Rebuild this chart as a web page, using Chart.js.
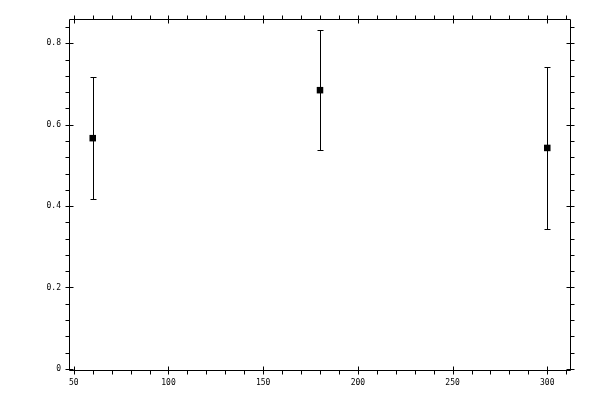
<!DOCTYPE html>
<html>
<head>
<meta charset="utf-8">
<script src="https://cdn.jsdelivr.net/npm/chart.js@4"></script>
<style>
  html, body { margin: 0; padding: 0; background: #fff; }
  #wrap { width: 600px; height: 400px; }
</style>
</head>
<body>
<div id="wrap"><canvas id="plot"></canvas></div>
<script>
// data
const xValues = [60, 180, 300];
const yValues = [0.567, 0.685, 0.543];
const yLow = [0.417, 0.537, 0.344];
const yHigh = [0.717, 0.834, 0.741];

// axis ticks
const xLabelTicks = [50, 100, 150, 200, 250, 300];
const xMinorTicks = [50, 60, 70, 80, 90, 100, 110, 120, 130, 140, 150, 160, 170, 180, 190, 200, 210, 220, 230, 240, 250, 260, 270, 280, 290, 300, 310];
const yLabelTicks = [0, 0.2, 0.4, 0.6, 0.8];
const yMinorTicks = [0, 0.04, 0.08, 0.12, 0.16, 0.2, 0.24, 0.28, 0.32, 0.36, 0.4, 0.44, 0.48, 0.52, 0.56, 0.6, 0.64, 0.68, 0.72, 0.76, 0.8, 0.84];

const points = xValues.map((x, i) => ({ x: x, y: yValues[i] }));

// error bars, drawn through the chart's scales
const errorBars = {
    id: 'errorBars',
    beforeDatasetsDraw(chart) {
        const { ctx, scales: { x, y } } = chart;
        ctx.save();
        ctx.strokeStyle = '#000';
        ctx.lineWidth = 1;
        xValues.forEach((xv, i) => {
            const px = Math.round(x.getPixelForValue(xv)) + 0.5;
            const top = Math.round(y.getPixelForValue(yHigh[i])) + 0.5;
            const bot = Math.round(y.getPixelForValue(yLow[i])) + 0.5;
            ctx.beginPath();
            ctx.moveTo(px, top);
            ctx.lineTo(px, bot);
            ctx.moveTo(px - 3, top);
            ctx.lineTo(px + 3, top);
            ctx.moveTo(px - 3, bot);
            ctx.lineTo(px + 3, bot);
            ctx.stroke();
        });
        ctx.restore();
    }
};

// box frame with outward minor ticks and crossing major ticks on all four sides
const frame = {
    id: 'frame',
    afterDraw(chart) {
        const { ctx, chartArea: a, scales: { x, y } } = chart;
        const L = a.left - 0.5, R = a.right + 0.5, T = a.top + 0.5, B = a.bottom + 0.5;
        ctx.save();
        ctx.strokeStyle = '#000';
        ctx.lineWidth = 1;
        ctx.beginPath();
        ctx.rect(L, T, R - L, B - T);

        xMinorTicks.forEach((v) => {
            const px = Math.round(x.getPixelForValue(v)) + 0.5;
            const major = xLabelTicks.includes(v);
            ctx.moveTo(px, B + 4);
            ctx.lineTo(px, major ? B - 4 : B);
            ctx.moveTo(px, T - 4);
            ctx.lineTo(px, major ? T + 4 : T);
        });
        yMinorTicks.forEach((v) => {
            const py = Math.round(y.getPixelForValue(v)) + 0.5;
            const major = yLabelTicks.includes(v);
            ctx.moveTo(L - 4, py);
            ctx.lineTo(major ? L + 4 : L, py);
            ctx.moveTo(R + 4, py);
            ctx.lineTo(major ? R - 4 : R, py);
        });
        ctx.stroke();
        ctx.restore();
    }
};

const tickFont = { family: 'DejaVu Sans Mono', size: 8 };

new Chart(document.getElementById('plot'), {
    type: 'scatter',
    data: {
        datasets: [{
            data: points,
            pointStyle: 'rect',
            pointRadius: 4.6,
            pointHoverRadius: 4.6,
            borderWidth: 0,
            backgroundColor: '#000',
            borderColor: '#000',
            showLine: false,
        }]
    },
    options: {
        responsive: true,
        maintainAspectRatio: false,
        animation: false,
        devicePixelRatio: 1,
        layout: { padding: { left: 0, top: 19, right: 30, bottom: 0 } },
        plugins: {
            legend: { display: false },
            tooltip: { enabled: false },
        },
        scales: {
            x: {
                type: 'linear',
                min: 48,
                max: 312,
                afterBuildTicks: (scale) => { scale.ticks = xLabelTicks.map((v) => ({ value: v })); },
                afterFit: (scale) => { scale.height = 30; },
                grid: { display: false, drawTicks: false },
                border: { display: false },
                ticks: { color: '#000', font: tickFont, padding: 8, maxRotation: 0, autoSkip: false },
            },
            y: {
                type: 'linear',
                min: -0.003,
                max: 0.86,
                afterBuildTicks: (scale) => { scale.ticks = yLabelTicks.map((v) => ({ value: v })); },
                afterFit: (scale) => { scale.width = 70; },
                grid: { display: false, drawTicks: false },
                border: { display: false },
                ticks: { color: '#000', font: tickFont, padding: 9, autoSkip: false },
            },
        },
    },
    plugins: [errorBars, frame],
});
</script>
</body>
</html>
